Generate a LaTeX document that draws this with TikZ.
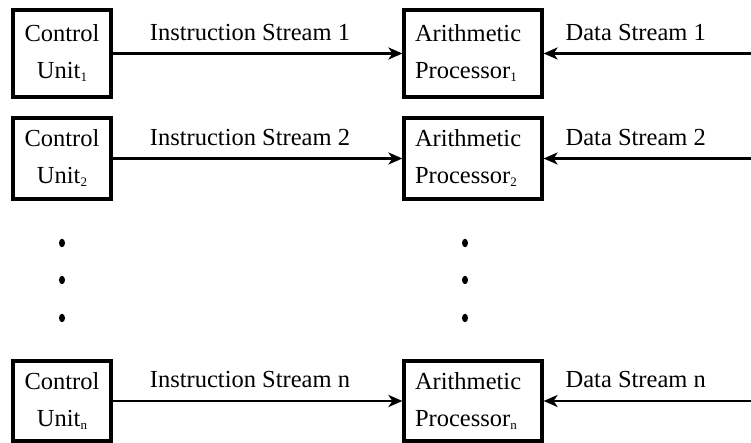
\documentclass[tikz,border=0pt]{standalone}
\usepackage{fontspec}
\setmainfont{Liberation Serif}
\usetikzlibrary{arrows.meta,shapes.geometric}
% small lowered index after a unit name
\newcommand\idx[1]{\raisebox{-3pt}{\fontsize{13}{13}\selectfont #1}}
\begin{document}
\begin{tikzpicture}[x=1pt,y=1pt,
  every node/.style={font=\fontsize{24.5}{37}\selectfont, inner sep=0pt},
  cu/.style={draw, line width=3.2pt, minimum width=98pt, align=center},
  ap/.style={draw, line width=3.2pt, minimum width=138pt, text width=116pt, align=left},
  flow/.style={line width=2.8pt, -{Stealth[length=14pt,width=12pt,inset=4pt]}},
  lbl/.style={anchor=base, yshift=13pt},
  dotmark/.style={ellipse, fill, minimum width=6pt, minimum height=8.5pt}]
\useasboundingbox (0,0) rectangle (751,443);

% control units
\node[cu, minimum height=87pt] (c1) at (62,389.5) {Control\\Unit\idx{1}};
\node[cu, minimum height=81pt] (c2) at (62,284.5) {Control\\Unit\idx{2}};
\node[cu, minimum height=80pt] (cn) at (62,42) {Control\\Unit\idx{n}};

% arithmetic processors
\node[ap, minimum height=87pt] (a1) at (473,389.5) {Arithmetic\\Processor\idx{1}};
\node[ap, minimum height=81pt] (a2) at (473,284.5) {Arithmetic\\Processor\idx{2}};
\node[ap, minimum height=80pt] (an) at (473,42) {Arithmetic\\Processor\idx{n}};

% data streams enter from the right edge
\coordinate (e1) at (753,389.5);
\coordinate (e2) at (753,284.5);
\coordinate (en) at (753,42);

% instruction streams
\draw[flow] (c1) -- node[lbl, pos=0.474] {Instruction Stream 1} (a1);
\draw[flow] (c2) -- node[lbl, pos=0.474] {Instruction Stream 2} (a2);
\draw[flow] (cn) -- node[lbl, pos=0.474] {Instruction Stream n} (an);

% data streams
\draw[flow] (e1) -- node[lbl, pos=0.56] {Data Stream 1} (a1);
\draw[flow] (e2) -- node[lbl, pos=0.56] {Data Stream 2} (a2);
\draw[flow] (en) -- node[lbl, pos=0.56] {Data Stream n} (an);

% vertical ellipsis
\node[dotmark] (l1) at (62,200) {};
\node[dotmark] (l2) at (62,163) {};
\node[dotmark] (l3) at (62,125) {};
\node[dotmark] (r1) at (465,200) {};
\node[dotmark] (r2) at (465,163) {};
\node[dotmark] (r3) at (465,125) {};
\end{tikzpicture}
\end{document}
